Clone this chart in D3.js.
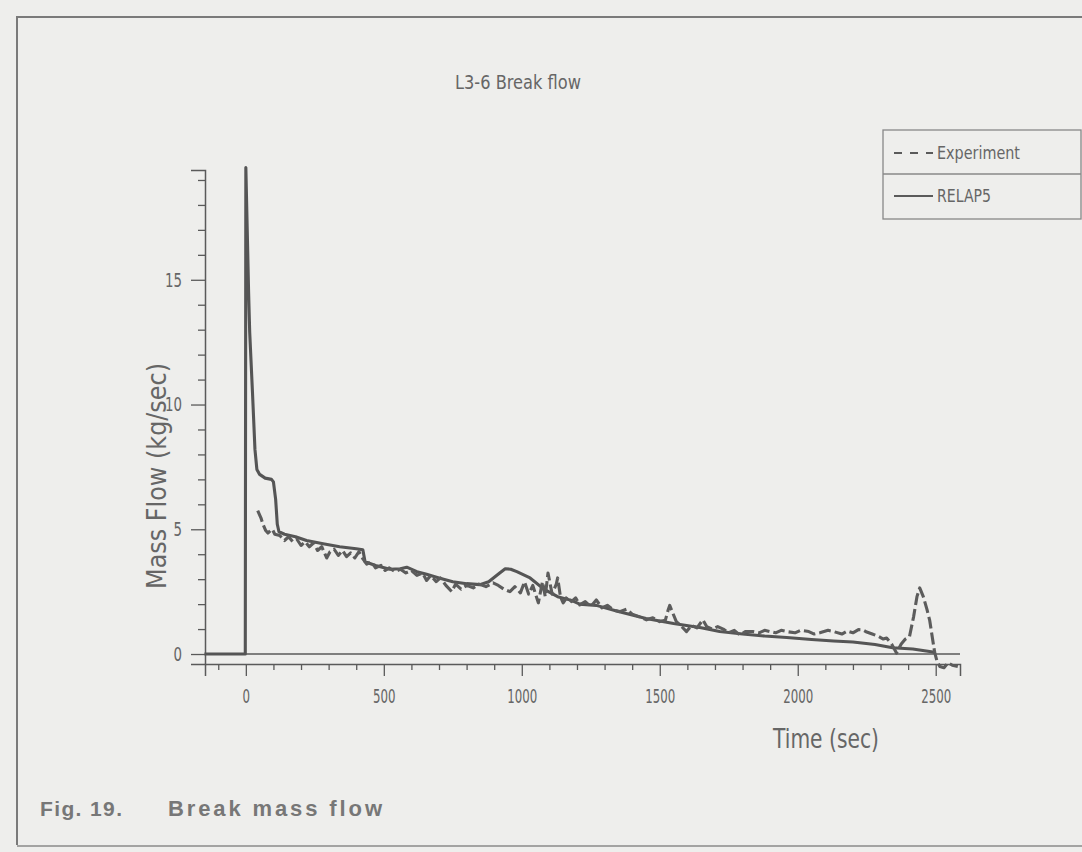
<!DOCTYPE html>
<html><head><meta charset="utf-8">
<script src="https://cdn.jsdelivr.net/npm/d3@7"></script>
<style>
html,body{margin:0;padding:0;background:#eeeeec;}
svg{display:block;}
</style></head>
<body>
<svg id="chart" width="1082" height="852"></svg>
<script>
// ---- data (time in sec, mass flow in kg/sec) ----
const title = "L3-6 Break flow";
const xLabel = "Time (sec)";
const yLabel = "Mass Flow (kg/sec)";
const captionFig = "Fig. 19.";
const captionText = "Break mass flow";
const seriesNames = ["Experiment", "RELAP5"];
const xTicksMajor = [0, 500, 1000, 1500, 2000, 2500];
const yTicksMajor = [0, 5, 10, 15];

const relap5 = [[-150,0],[-2,0],[0,19.5],[5,17],[10,14.5],[14,12.9],[24,10.5],[33,8.2],[40,7.4],[50,7.2],[70,7.05],[93,7.0],[100,6.9],[108,6.2],[114,5.2],[120,4.9],[140,4.8],[180,4.7],[220,4.55],[280,4.42],[340,4.3],[400,4.22],[424,4.18],[432,3.7],[470,3.55],[522,3.4],[560,3.42],[583,3.48],[620,3.3],[655,3.2],[700,3.05],[750,2.9],[800,2.82],[848,2.78],[880,2.9],[920,3.25],[940,3.42],[960,3.4],[982,3.3],[1030,3.05],[1080,2.6],[1130,2.3],[1180,2.15],[1210,2.0],[1270,1.95],[1350,1.7],[1450,1.42],[1550,1.22],[1650,1.05],[1717,0.9],[1800,0.8],[1880,0.72],[1960,0.66],[2050,0.58],[2130,0.52],[2200,0.48],[2280,0.38],[2344,0.25],[2417,0.2],[2490,0.08],[2500,0.04]];

const experiment = [[43,5.75],[55,5.45],[62,5.2],[72,4.95],[80,4.85],[90,4.95],[96,5.0],[105,4.8],[123,4.75],[140,4.55],[155,4.7],[170,4.5],[185,4.6],[200,4.35],[215,4.5],[230,4.3],[245,4.45],[260,4.15],[275,4.3],[293,3.85],[305,4.1],[320,4.2],[335,3.95],[350,4.15],[365,3.9],[380,4.05],[395,3.85],[410,4.1],[425,3.8],[438,3.6],[455,3.7],[470,3.45],[490,3.55],[505,3.35],[520,3.45],[540,3.3],[560,3.4],[580,3.25],[600,3.35],[620,3.15],[640,3.25],[655,2.95],[670,3.15],[690,2.9],[705,3.05],[725,2.75],[746,2.5],[760,2.8],[780,2.6],[800,2.75],[824,2.65],[845,2.8],[870,2.7],[896,2.85],[915,2.75],[935,2.6],[957,2.5],[975,2.7],[995,2.45],[1010,2.9],[1025,2.4],[1040,2.75],[1060,2.05],[1075,2.9],[1085,2.3],[1095,3.25],[1110,2.4],[1125,2.8],[1130,3.05],[1140,2.3],[1150,2.05],[1165,2.3],[1180,2.1],[1195,2.25],[1210,1.97],[1230,2.1],[1250,1.9],[1270,2.17],[1290,1.85],[1310,1.95],[1335,1.75],[1355,1.7],[1380,1.8],[1400,1.6],[1425,1.5],[1452,1.37],[1475,1.45],[1500,1.3],[1520,1.35],[1530,1.75],[1536,1.95],[1545,1.7],[1560,1.3],[1575,1.15],[1597,0.9],[1615,1.15],[1635,1.05],[1656,1.37],[1670,1.1],[1690,1.0],[1710,1.1],[1730,1.0],[1750,0.85],[1770,0.95],[1790,0.76],[1810,0.9],[1837,0.9],[1860,0.85],[1880,0.95],[1900,0.9],[1920,0.85],[1940,0.95],[1960,0.9],[1990,0.85],[2010,0.95],[2040,0.9],[2060,0.8],[2080,0.85],[2110,0.95],[2130,0.9],[2160,0.8],[2180,0.92],[2200,0.85],[2220,0.98],[2235,0.97],[2250,0.88],[2270,0.8],[2290,0.72],[2310,0.6],[2322,0.64],[2340,0.4],[2358,0.04],[2375,0.4],[2390,0.6],[2405,0.7],[2420,1.5],[2432,2.3],[2442,2.65],[2455,2.3],[2468,1.8],[2478,1.36],[2490,0.5],[2496,0.08],[2505,-0.3],[2515,-0.5],[2530,-0.55],[2545,-0.35],[2560,-0.45],[2580,-0.5]];

// ---- drawing ----
const svg = d3.select("#chart");
const ink = "#5a5a5a";
const txt = "#666";
const FONT = "DejaVu Sans, Liberation Sans, sans-serif";

// outer frame
svg.append("path").attr("d","M17,845 L17,17 L1082,17").attr("fill","none").attr("stroke","#7a7a7a").attr("stroke-width",2);
svg.append("line").attr("x1",17).attr("x2",1082).attr("y1",846).attr("y2",846).attr("stroke","#8a8a8a").attr("stroke-width",1.5);

const x = d3.scaleLinear().domain([-148, 2588]).range([205, 960]);
const y = d3.scaleLinear().domain([-0.4, 19.4]).range([664, 170]);

function narrow(sel, perChar) {
  sel.attr("textLength", function(){ return this.textContent.length * perChar; })
     .attr("lengthAdjust", "spacingAndGlyphs");
}

// y axis
const yMinor = d3.range(0, 20, 1).filter(v => !yTicksMajor.includes(v));
const yAxisG = svg.append("g").attr("transform", `translate(${x(-148)},0)`);
yAxisG.call(d3.axisLeft(y).tickValues(yMinor).tickSize(7).tickFormat(""));
yAxisG.call(g => g.select(".domain").remove());
const yMaj = svg.append("g").attr("transform", `translate(${x(-148)},0)`)
  .call(d3.axisLeft(y).tickValues(yTicksMajor).tickSize(14).tickPadding(9).tickFormat(d3.format("d")));
[yAxisG, yMaj].forEach(g => {
  g.selectAll("line").attr("stroke", ink).attr("stroke-width", 1.3);
  g.selectAll(".domain").attr("stroke", ink).attr("stroke-width", 1.5);
});
yMaj.selectAll("text").attr("font-family",FONT).attr("font-size",20).attr("fill",txt).call(narrow, 8.5);

// x axis
const xMinor = d3.range(-100, 2600, 100).filter(v => !xTicksMajor.includes(v));
const xAxisG = svg.append("g").attr("transform", `translate(0,${y(-0.4)})`);
xAxisG.call(d3.axisBottom(x).tickValues(xMinor).tickSize(6).tickFormat(""));
xAxisG.call(g => g.select(".domain").remove());
const xMaj = svg.append("g").attr("transform", `translate(0,${y(-0.4)})`)
  .call(d3.axisBottom(x).tickValues(xTicksMajor).tickSize(12).tickPadding(14).tickFormat(d3.format("d")));
[xAxisG, xMaj].forEach(g => {
  g.selectAll("line").attr("stroke", ink).attr("stroke-width", 1.3);
  g.selectAll(".domain").attr("stroke", ink).attr("stroke-width", 1.5);
});
xMaj.selectAll("text").attr("font-family",FONT).attr("font-size",19).attr("fill",txt).call(narrow, 7.5);

// zero reference line
svg.append("line").attr("x1", x(-148)).attr("x2", x(2588)).attr("y1", y(0)).attr("y2", y(0))
  .attr("stroke", ink).attr("stroke-width", 1.4);

const line = d3.line().x(d => x(d[0])).y(d => y(d[1]));

svg.append("path").datum(relap5).attr("d", line).attr("fill","none")
  .attr("stroke", "#555").attr("stroke-width", 3.1).attr("stroke-linejoin","round");
svg.append("path").datum(experiment).attr("d", line).attr("fill","none")
  .attr("stroke", "#5c5c5c").attr("stroke-width", 3.1).attr("stroke-dasharray","12,4").attr("stroke-linejoin","round");

// titles
svg.append("text").attr("x", 518).attr("y", 89).attr("text-anchor","middle").attr("font-family",FONT)
  .attr("font-size", 20).attr("fill", txt).attr("textLength",126).attr("lengthAdjust","spacingAndGlyphs").text(title);
svg.append("text").attr("x", 826).attr("y", 748).attr("text-anchor","middle").attr("font-family",FONT)
  .attr("font-size", 27).attr("fill", txt).attr("textLength",106).attr("lengthAdjust","spacingAndGlyphs").text(xLabel);
svg.append("text").attr("transform","translate(166,476) rotate(-90)").attr("text-anchor","middle").attr("font-family",FONT)
  .attr("font-size", 26).attr("fill", txt).attr("textLength",226).attr("lengthAdjust","spacingAndGlyphs").text(yLabel);

// legend
const lg = svg.append("g");
lg.append("rect").attr("x", 883).attr("y", 130).attr("width", 198).attr("height", 89)
  .attr("fill","none").attr("stroke","#888").attr("stroke-width",1.3);
lg.append("line").attr("x1",883).attr("x2",1081).attr("y1",174).attr("y2",174).attr("stroke","#888").attr("stroke-width",1.3);
lg.append("line").attr("x1",894).attr("x2",933).attr("y1",153).attr("y2",153).attr("stroke",ink).attr("stroke-width",1.8).attr("stroke-dasharray","8,8");
lg.append("line").attr("x1",894).attr("x2",933).attr("y1",196).attr("y2",196).attr("stroke",ink).attr("stroke-width",1.8);
lg.append("text").attr("x",937).attr("y",159).attr("font-family",FONT).attr("font-size",17).attr("fill",txt)
  .attr("textLength",83).attr("lengthAdjust","spacingAndGlyphs").text(seriesNames[0]);
lg.append("text").attr("x",937).attr("y",202).attr("font-family",FONT).attr("font-size",17).attr("fill",txt)
  .attr("textLength",54).attr("lengthAdjust","spacingAndGlyphs").text(seriesNames[1]);

// caption
svg.append("text").attr("x", 40).attr("y", 816).attr("font-family","Liberation Sans, Arial, sans-serif")
  .attr("font-size", 21).attr("font-weight","bold").attr("fill","#777")
  .attr("textLength",82).attr("lengthAdjust","spacing").text(captionFig);
svg.append("text").attr("x", 168).attr("y", 816).attr("font-family","Liberation Sans, Arial, sans-serif")
  .attr("font-size", 22).attr("font-weight","bold").attr("fill","#777")
  .attr("textLength",214).attr("lengthAdjust","spacing").text(captionText);
</script>
</body></html>
